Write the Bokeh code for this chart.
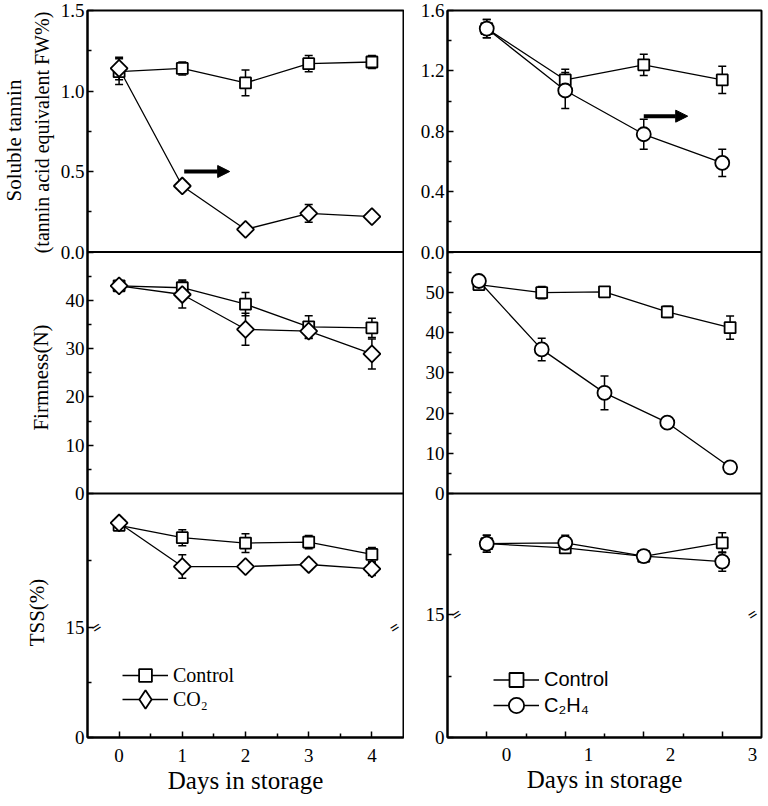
import math
from bokeh.plotting import figure
from bokeh.models import (Range1d, LinearAxis, FixedTicker, CustomJSTickFormatter,
                          ColumnDataSource, Whisker, TeeHead, Span, Label, Legend,
                          LegendItem, Arrow, NormalHead, Title)
from bokeh.layouts import row
from bokeh.embed import file_html
from bokeh.resources import INLINE

# ---------------------------------------------------------------- data
days_left = [0, 1, 2, 3, 4]
days_right = [0, 1, 2, 3]            # tannin and TSS, right column
days_right_firm = [0, 1, 2, 3, 4]    # firmness, right column
x_ticks_left = [0, 1, 2, 3, 4]
x_ticks_right = [0, 1, 2, 3]

tannin_ctrl_left = [1.12, 1.14, 1.05, 1.17, 1.18]
tannin_ctrl_left_err = [0.08, 0.04, 0.08, 0.05, 0.04]
tannin_co2 = [1.14, 0.41, 0.14, 0.24, 0.22]
tannin_co2_err = [0.07, 0.03, 0.03, 0.055, 0.03]

firm_ctrl_left = [43.0, 42.6, 39.2, 34.5, 34.3]
firm_ctrl_left_err = [0.5, 1.6, 2.4, 2.3, 2.0]
firm_co2 = [43.0, 41.2, 34.0, 33.6, 28.9]
firm_co2_err = [0.6, 2.8, 3.3, 1.5, 3.1]

tss_ctrl_left = [19.05, 18.68, 18.52, 18.55, 18.18]
tss_ctrl_left_err = [0.1, 0.24, 0.28, 0.2, 0.21]
tss_co2 = [19.12, 17.82, 17.82, 17.88, 17.75]
tss_co2_err = [0.1, 0.35, 0.1, 0.15, 0.2]

tannin_ctrl_right = [1.48, 1.14, 1.24, 1.14]
tannin_ctrl_right_err = [0.06, 0.07, 0.07, 0.09]
tannin_c2h4 = [1.48, 1.07, 0.78, 0.59]
tannin_c2h4_err = [0.06, 0.12, 0.10, 0.09]

firm_ctrl_right = [51.9, 49.9, 50.1, 45.1, 41.2]
firm_ctrl_right_err = [0.5, 1.5, 1.0, 1.4, 2.9]
firm_c2h4 = [52.8, 35.8, 25.0, 17.6, 6.5]
firm_c2h4_err = [0.5, 2.8, 4.2, 1.0, 0.8]

tss_ctrl_right = [18.34, 18.2, 17.92, 18.37]
tss_ctrl_right_err = [0.28, 0.1, 0.1, 0.33]
tss_c2h4 = [18.34, 18.37, 17.93, 17.75]
tss_c2h4_err = [0.28, 0.25, 0.1, 0.32]

# y ticks: (values, labels, minor values)
tannin_left_ticks = ([0.0, 0.5, 1.0, 1.5], ["0.0", "0.5", "1.0", "1.5"], [0.25, 0.75, 1.25])
tannin_right_ticks = ([0.0, 0.4, 0.8, 1.2, 1.6], ["0.0", "0.4", "0.8", "1.2", "1.6"], [0.2, 0.6, 1.0, 1.4])
firm_left_ticks = ([0, 10, 20, 30, 40], ["0", "10", "20", "30", "40"], [5, 15, 25, 35, 45])
firm_right_ticks = ([0, 10, 20, 30, 40, 50], ["0", "10", "20", "30", "40", "50"], [5, 15, 25, 35, 45, 55])
tss_low_ticks = ([0, 15], ["0", "15"], [7.5])
tss_up_ticks = ([], [], [18])

# arrows (data coordinates)
arrow_left = dict(x0=1.03, x1=1.75, y=0.5)
arrow_right = dict(x0=2.0, x1=2.56, y=0.9)

SERIF = "Liberation Serif"
SANS = "Liberation Sans"
V_TOP = 727.0   # virtual height of the stacked frame
FIG_H = 803
MB_TOP = 10
MB_BOTTOM = 66


def seg(lo, hi, a, b):
    s = (hi - lo) / (b - a)
    return Range1d(start=lo - a * s, end=hi + (V_TOP - b) * s)


def vpos(v, lo, hi, a, b):
    return round(a + (v - lo) / (hi - lo) * (b - a), 3)


def style_axis(ax, size="19px"):
    ax.axis_line_width = 2
    ax.axis_line_color = "black"
    ax.major_tick_in = 6
    ax.major_tick_out = 0
    ax.minor_tick_in = 4
    ax.minor_tick_out = 0
    ax.major_tick_line_width = 1.5
    ax.minor_tick_line_width = 1.5
    ax.major_tick_line_color = "black"
    ax.minor_tick_line_color = "black"
    ax.major_label_text_font = SERIF
    ax.major_label_text_font_size = size
    ax.major_label_text_color = "black"


def make_fig(width, min_left, min_right, x_range):
    p = figure(width=width, height=FIG_H, x_range=x_range, y_range=Range1d(0, V_TOP),
               x_axis_type=None, y_axis_type=None, toolbar_location=None,
               output_backend="svg", min_border_left=min_left, min_border_right=min_right,
               min_border_top=MB_TOP, min_border_bottom=MB_BOTTOM)
    p.outline_line_color = "black"
    p.outline_line_width = 2
    p.background_fill_color = "white"
    return p


def add_y_axis(p, groups):
    majors, labels, minors = [], [], []
    for (lo, hi, a, b), (mv, ml, mn) in groups:
        for v, l in zip(mv, ml):
            majors.append(vpos(v, lo, hi, a, b))
            labels.append(l)
        for v in mn:
            minors.append(vpos(v, lo, hi, a, b))
    order = sorted(range(len(majors)), key=lambda i: majors[i])
    majors = [majors[i] for i in order]
    labels = [labels[i] for i in order]
    keys = [f"{t:.3f}" for t in majors]
    fmt = CustomJSTickFormatter(args=dict(keys=keys, labs=labels),
                                code="const i = keys.indexOf(tick.toFixed(3)); return i >= 0 ? labs[i] : '';")
    ax = LinearAxis(ticker=FixedTicker(ticks=majors, minor_ticks=sorted(minors)), formatter=fmt)
    style_axis(ax)
    ax.major_label_standoff = 3
    p.add_layout(ax, "left")


def add_pair(p, xname, yname, xs, s1, e1, s2, e2, m2, size2, ang2):
    srcs = []
    for ys, es in ((s1, e1), (s2, e2)):
        srcs.append(ColumnDataSource(dict(x=xs, y=ys,
                                          lo=[y - e for y, e in zip(ys, es)],
                                          hi=[y + e for y, e in zip(ys, es)])))
    for src in srcs:
        p.add_layout(Whisker(source=src, base="x", lower="lo", upper="hi",
                             line_width=1.5, line_color="black",
                             lower_head=TeeHead(size=8, line_width=1.5, line_color="black"),
                             upper_head=TeeHead(size=8, line_width=1.5, line_color="black"),
                             x_range_name=xname, y_range_name=yname, level="underlay"))
    lines = [p.line("x", "y", source=src, line_color="black", line_width=1.3,
                    x_range_name=xname, y_range_name=yname) for src in srcs]
    m1 = p.scatter("x", "y", source=srcs[0], marker="square", size=11, fill_color="white",
                   line_color="black", line_width=1.8, x_range_name=xname, y_range_name=yname)
    mm2 = p.scatter("x", "y", source=srcs[1], marker=m2, size=size2, angle=ang2, fill_color="white",
                    line_color="black", line_width=1.8, x_range_name=xname, y_range_name=yname)
    return (lines[0], m1, srcs[0]), (lines[1], mm2, srcs[1])


def add_break(p, xr, y, yname):
    for xv, off in ((xr.start, 9), (xr.end, -9)):
        p.add_layout(Label(x=xv, y=y, x_offset=off, y_range_name=yname, text="=", angle=0.55,
                           text_font=SERIF, text_font_size="16px", text_font_style="bold",
                           text_align="center", text_baseline="middle", text_color="black"))


def add_arrow(p, a, xname, yname):
    p.add_layout(Arrow(end=NormalHead(size=12, fill_color="black", line_color="black"),
                       x_start=a["x0"], y_start=a["y"], x_end=a["x1"], y_end=a["y"],
                       line_width=4, line_color="black",
                       x_range_name=xname, y_range_name=yname))


def add_legend(p, label, renderers, loc, gh, font):
    p.add_layout(Legend(items=[LegendItem(label=label, renderers=renderers)],
                        location=loc, glyph_width=46, glyph_height=gh, label_height=gh,
                        label_standoff=5, spacing=0, padding=0, margin=0,
                        border_line_alpha=0, background_fill_alpha=0,
                        label_text_font=font, label_text_font_size="20px",
                        label_text_color="black"))


def add_xtitle(p, offset):
    p.add_layout(Title(text="Days in storage", align="center", offset=offset,
                       text_font=SERIF, text_font_size="25px", text_font_style="normal",
                       text_color="black", standoff=0), "below")


# ---------------------------------------------------------------- y-title strip
TF_W = 55
tf = figure(width=TF_W, height=FIG_H, x_range=Range1d(0, TF_W), y_range=Range1d(0, V_TOP),
            x_axis_type=None, y_axis_type=None, toolbar_location=None, output_backend="svg",
            min_border_left=0, min_border_right=0, min_border_top=MB_TOP,
            min_border_bottom=MB_BOTTOM)
tf.outline_line_color = None
FRAME_BOTTOM = V_TOP + MB_TOP   # reference pixel row of the frame bottom
for txt, x, yc, fs in (("Soluble tannin", 13, 140, "21px"),
                       ("(tannin acid equivalent FW%)", 41, 132, "20px"),
                       ("Firmness(N)", 40, 377, "21px"),
                       ("TSS(%)", 36, 612, "21px")):
    tf.add_layout(Label(x=x, y=FRAME_BOTTOM - yc, text=txt, angle=math.pi / 2, text_font=SERIF,
                        text_font_size=fs, text_color="black",
                        text_align="center", text_baseline="middle"))

# ---------------------------------------------------------------- left column
P1 = 485.5
P2 = 244.0
L_BREAK = 110.0
R_BREAK = 123.0

xl = Range1d(-0.5, 4.5)
pl = make_fig(32 + 316 + 1, 32, 1, xl)
segs_l = {"p1": (0, 1.5, P1, V_TOP), "p2": (0, 50, P2, P1),
          "p3u": (16, 20, L_BREAK, P2), "p3l": (0, 15, 0, L_BREAK)}
pl.extra_y_ranges = {k: seg(*v) for k, v in segs_l.items()}
add_y_axis(pl, [(segs_l["p1"], tannin_left_ticks), (segs_l["p2"], firm_left_ticks),
                (segs_l["p3u"], tss_up_ticks), (segs_l["p3l"], tss_low_ticks)])
axl = LinearAxis(ticker=FixedTicker(ticks=x_ticks_left, minor_ticks=[0.5, 1.5, 2.5, 3.5]))
style_axis(axl)
axl.major_label_standoff = 11
pl.add_layout(axl, "below")
add_xtitle(pl, -5)

add_pair(pl, "default", "p1", days_left, tannin_ctrl_left, tannin_ctrl_left_err,
         tannin_co2, tannin_co2_err, "square", 12, math.pi / 4)
add_pair(pl, "default", "p2", days_left, firm_ctrl_left, firm_ctrl_left_err,
         firm_co2, firm_co2_err, "square", 12, math.pi / 4)
r_ctrl_l, r_co2 = add_pair(pl, "default", "p3u", days_left, tss_ctrl_left, tss_ctrl_left_err,
                           tss_co2, tss_co2_err, "square", 12, math.pi / 4)
# legend sample for the diamond series (rotated squares are shown unrotated in legends)
co2_key = pl.scatter("x", "y", source=r_co2[2], marker="diamond", size=12, fill_color="white",
                     line_color="black", line_width=1.8, y_range_name="p3u", visible=False)
for loc in (P1, P2):
    pl.add_layout(Span(location=loc, dimension="width", line_color="black", line_width=2))
add_break(pl, xl, 15, "p3l")
add_arrow(pl, arrow_left, "default", "p1")
add_legend(pl, "Control", [r_ctrl_l[0], r_ctrl_l[1]], (35, 46), 32, SERIF)
add_legend(pl, "CO\u2082", [r_co2[0], co2_key], (35, 15), 46, SERIF)

# ---------------------------------------------------------------- right column
xr = Range1d(-0.72, 3.11)
pr = make_fig(43 + 314 + 2, 43, 2, xr)
pr.extra_x_ranges = {"d4": Range1d(-0.5, 3.5), "d5": Range1d(-0.5, 4.5)}
segs_r = {"p1": (0, 1.6, P1, V_TOP), "p2": (0, 60, P2, P1),
          "p3u": (16, 20, R_BREAK, P2), "p3l": (0, 15, 0, R_BREAK)}
pr.extra_y_ranges = {k: seg(*v) for k, v in segs_r.items()}
add_y_axis(pr, [(segs_r["p1"], tannin_right_ticks), (segs_r["p2"], firm_right_ticks),
                (segs_r["p3u"], tss_up_ticks), (segs_r["p3l"], tss_low_ticks)])
ax_ticks = LinearAxis(x_range_name="d4",
                      ticker=FixedTicker(ticks=x_ticks_right, minor_ticks=[0.5, 1.5, 2.5]),
                      formatter=CustomJSTickFormatter(code="return '';"))
style_axis(ax_ticks, size="1px")
ax_ticks.major_label_standoff = 0
pr.add_layout(ax_ticks, "below")
ax_lab = LinearAxis(ticker=FixedTicker(ticks=x_ticks_right, minor_ticks=[]))
style_axis(ax_lab)
ax_lab.axis_line_color = None
ax_lab.major_tick_line_color = None
ax_lab.minor_tick_line_color = None
ax_lab.major_label_standoff = 10
pr.add_layout(ax_lab, "below")
add_xtitle(pr, 17)

add_pair(pr, "d4", "p1", days_right, tannin_ctrl_right, tannin_ctrl_right_err,
         tannin_c2h4, tannin_c2h4_err, "circle", 14, 0)
add_pair(pr, "d5", "p2", days_right_firm, firm_ctrl_right, firm_ctrl_right_err,
         firm_c2h4, firm_c2h4_err, "circle", 14, 0)
r_ctrl_r, r_c2h4 = add_pair(pr, "d4", "p3u", days_right, tss_ctrl_right, tss_ctrl_right_err,
                            tss_c2h4, tss_c2h4_err, "circle", 14, 0)
for loc in (P1, P2):
    pr.add_layout(Span(location=loc, dimension="width", line_color="black", line_width=2))
add_break(pr, xr, 15, "p3l")
add_arrow(pr, arrow_right, "d4", "p1")
add_legend(pr, "Control", [r_ctrl_r[0], r_ctrl_r[1]], (46, 40), 35, SANS)
add_legend(pr, "C\u2082H\u2084", [r_c2h4[0], r_c2h4[1]], (46, 13), 38, SANS)

layout = row(tf, pl, pr)
open("out.html", "w").write(file_html(layout, INLINE))
